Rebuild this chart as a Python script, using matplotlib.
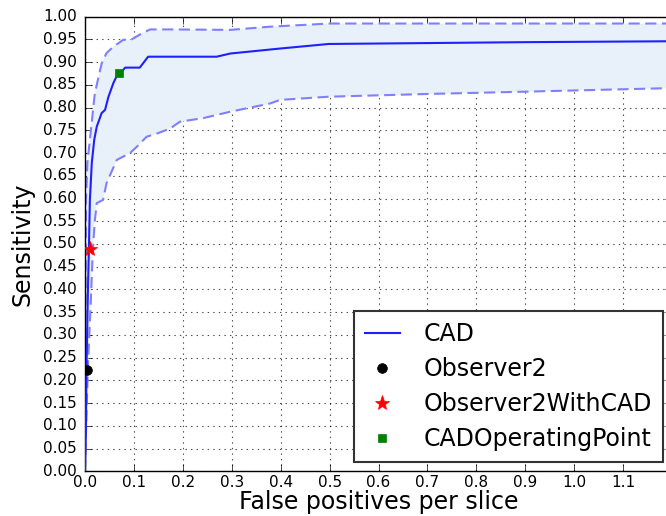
import numpy as np
import matplotlib
matplotlib.use("Agg")
import matplotlib.pyplot as plt

plt.style.use("classic")

# CAD FROC curve (false positives per slice vs sensitivity)
cad_fp = [0.0, 0.002, 0.003, 0.006, 0.008, 0.010, 0.014, 0.019, 0.024, 0.034, 0.041, 0.048,
          0.058, 0.065, 0.075, 0.082, 0.112, 0.129, 0.269, 0.297, 0.399, 0.498, 0.70, 0.90, 1.20]
cad_sens = [0.0, 0.10, 0.22, 0.40, 0.49, 0.597, 0.68, 0.73, 0.758, 0.788, 0.795, 0.824,
            0.854, 0.870, 0.879, 0.888, 0.888, 0.912, 0.912, 0.919, 0.930, 0.940, 0.942, 0.944, 0.946]

# upper / lower confidence bounds
upper_fp = [0.0, 0.001, 0.002, 0.005, 0.010, 0.020, 0.034, 0.044, 0.058, 0.078, 0.095,
            0.116, 0.133, 0.174, 0.297, 0.378, 0.501, 1.20]
upper_sens = [0.0, 0.30, 0.597, 0.68, 0.729, 0.831, 0.897, 0.920, 0.934, 0.949, 0.950,
              0.963, 0.972, 0.972, 0.971, 0.978, 0.985, 0.985]
lower_fp = [0.0, 0.001, 0.006, 0.012, 0.016, 0.020, 0.024, 0.037, 0.044, 0.065, 0.092, 0.106,
            0.126, 0.147, 0.174, 0.194, 0.242, 0.297, 0.378, 0.399, 0.498, 0.699, 0.896, 1.20]
lower_sens = [0.0, 0.05, 0.23, 0.377, 0.487, 0.55, 0.59, 0.597, 0.634, 0.685, 0.700, 0.714,
              0.736, 0.743, 0.754, 0.769, 0.777, 0.791, 0.809, 0.817, 0.824, 0.830, 0.835, 0.843]

# single operating points
obs2 = (0.005, 0.223)
obs2_cad = (0.0095, 0.489)
cad_op = (0.070, 0.877)

fig = plt.figure(figsize=(6.66, 5.16), dpi=100, facecolor="white")
ax = fig.add_axes([85 / 666, 44.7 / 516, 587 / 666, 454.6 / 516])

# shaded band between bounds
poly_x = np.concatenate([upper_fp, lower_fp[::-1]])
poly_y = np.concatenate([upper_sens, lower_sens[::-1]])
ax.fill(poly_x, poly_y, color="#e8f1f9", edgecolor="none", zorder=1)
ax.plot(upper_fp, upper_sens, color="#7f7fff", lw=1.5, dashes=(8, 4), zorder=2)
ax.plot(lower_fp, lower_sens, color="#7f7fff", lw=1.5, dashes=(8, 4), zorder=2)

ax.plot(cad_fp, cad_sens, color="#2020ff", lw=1.5, label="CAD", zorder=3)
ax.plot(*obs2, "o", color="k", mec="k", ms=7, label="Observer2", zorder=4)
ax.plot(*obs2_cad, "*", color="r", mec="r", ms=11, label="Observer2WithCAD", zorder=4)
ax.plot(*cad_op, "s", color="g", mec="g", ms=6, label="CADOperatingPoint", zorder=4)

ax.set_xlim(0, 1.2)
ax.set_ylim(0, 1.0)
ax.set_xticks(np.arange(0, 1.15, 0.1))
ax.set_yticks(np.arange(0, 1.001, 0.05))
ax.set_xticklabels(["%.1f" % v for v in np.arange(0, 1.15, 0.1)])
ax.set_yticklabels(["%.2f" % v for v in np.arange(0, 1.001, 0.05)])
ax.tick_params(labelsize=11, direction="in", length=5)
ax.tick_params(axis="x", pad=3)
ax.tick_params(axis="y", pad=6)
ax.grid(True, color="k", linestyle=":", linewidth=0.8, alpha=0.7)
ax.set_axisbelow(True)

ax.set_xlabel("False positives per slice", fontsize=17, labelpad=0)
ax.set_ylabel("Sensitivity", fontsize=17, labelpad=6)

leg = ax.legend(loc="lower right", fontsize=17, numpoints=1, handlelength=1.5,
                handletextpad=1.0, labelspacing=0.47, borderpad=0.45,
                borderaxespad=0.4, fancybox=False)
leg.get_frame().set_edgecolor("#333333")
leg.get_frame().set_linewidth(1.5)

fig.savefig("out.png", dpi=100, facecolor="white")
